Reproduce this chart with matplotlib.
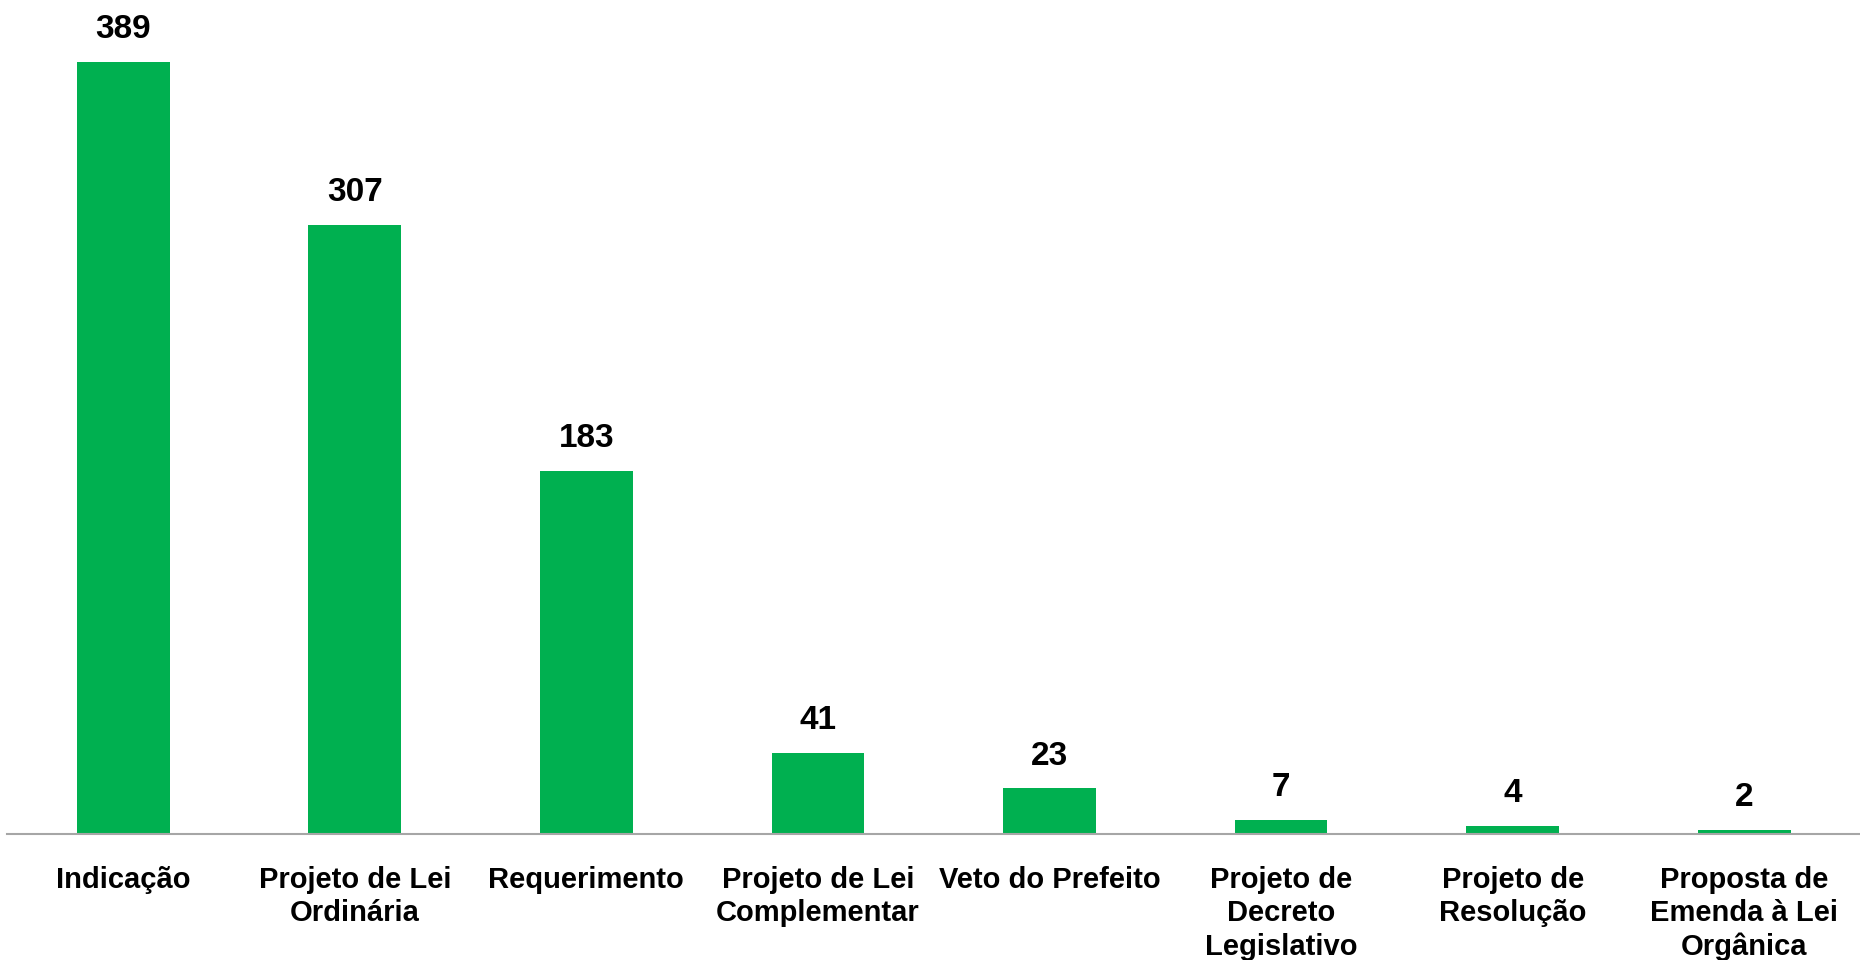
import matplotlib
matplotlib.use("Agg")
import matplotlib.pyplot as plt

categories = [
    "Indicação",
    "Projeto de Lei\nOrdinária",
    "Requerimento",
    "Projeto de Lei\nComplementar",
    "Veto do Prefeito",
    "Projeto de\nDecreto\nLegislativo",
    "Projeto de\nResolução",
    "Proposta de\nEmenda à Lei\nOrgânica",
]
counts = [389, 307, 183, 41, 23, 7, 4, 2]

bar_color = "#00B050"

fig = plt.figure(figsize=(18.6, 9.6), dpi=100)
ax = fig.add_axes([0.004, 0.13125, 0.996, 0.86875])

x = list(range(len(categories)))
ax.bar(x, counts, width=0.4, color=bar_color)

# value on top of every bar
for xi, v in zip(x, counts):
    ax.annotate(str(v), (xi, v), xytext=(0, 17), textcoords="offset points",
                ha="center", va="baseline", fontsize=24, fontweight="bold",
                family="Liberation Sans", color="black")

ax.set_xlim(-0.5, len(categories) - 0.5)
ax.set_ylim(0, 420.2)
ax.set_xticks(x)
ax.set_xticklabels(categories, fontsize=21, fontweight="bold",
                   family="Liberation Sans", linespacing=1.24)
ax.tick_params(axis="x", length=0, pad=23)
ax.set_yticks([])

for side in ["top", "right", "left"]:
    ax.spines[side].set_visible(False)
ax.spines["bottom"].set_color("#a6a6a6")
ax.spines["bottom"].set_linewidth(1.5)

fig.savefig("out.png", dpi=100, facecolor="white")
